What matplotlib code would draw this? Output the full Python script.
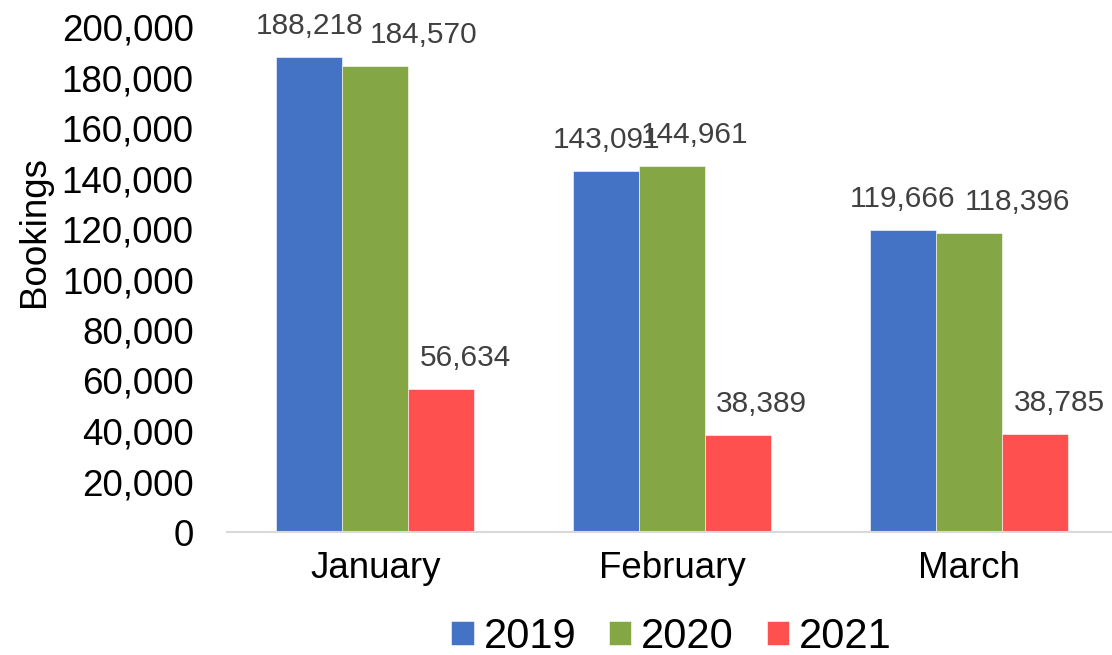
import numpy as np
import matplotlib.pyplot as plt

plt.rcParams['font.family'] = ['Liberation Sans', 'DejaVu Sans']

months = ['January', 'February', 'March']
years = ['2019', '2020', '2021']
b2019 = [188218, 143091, 119666]
b2020 = [184570, 144961, 118396]
b2021 = [56634, 38389, 38785]

colors = ['#4472C4', '#84A645', '#FF5050']
# label shifts (points) per series and month, as laid out in the original
label_dx = [[0, 0, 0], [35, 16, 35], [17, 17, 18]]

fig = plt.figure(figsize=(11.12, 6.55), dpi=100)
ax = fig.add_axes([227 / 1112, 123 / 655, 885 / 1112, 505 / 655])

x = np.arange(len(months))
w = 0.2225
for i, (vals, c) in enumerate(zip([b2019, b2020, b2021], colors)):
    bars = ax.bar(x + (i - 1) * w, vals, w, color=c, label=years[i],
                  edgecolor='white', linewidth=0.4)
    for j, (b, v) in enumerate(zip(bars, vals)):
        ax.annotate(f'{v:,}', (b.get_x() + b.get_width() / 2, v),
                    xytext=(label_dx[i][j], 12), textcoords='offset points',
                    ha='center', va='bottom', fontsize=21.5, color='#404040')

ax.set_xlim(-0.5, -0.5 + 885 / 296.75)
ax.set_ylim(0, 200000)
ax.set_yticks(np.arange(0, 200001, 20000))
ax.yaxis.set_major_formatter(plt.FuncFormatter(lambda v, p: f'{int(v):,}'))
ax.set_xticks(x)
ax.set_xticklabels(months)
ax.tick_params(axis='y', length=0, pad=24, labelsize=26.5)
ax.tick_params(axis='x', length=0, pad=14, labelsize=26.5)

for s in ['top', 'right', 'left']:
    ax.spines[s].set_visible(False)
ax.spines['bottom'].set_color('#D9D9D9')
ax.spines['bottom'].set_linewidth(1.5)

ax.set_ylabel('Bookings', fontsize=26.5)
ax.yaxis.set_label_coords(-0.198, 0.596)

fig.legend(loc='center', bbox_to_anchor=(0.604, 0.028), ncol=3, frameon=False,
           fontsize=30, handlelength=0.53, handleheight=0.53,
           handletextpad=0.24, columnspacing=0.79, borderpad=0)

fig.savefig('out.png', dpi=100)
